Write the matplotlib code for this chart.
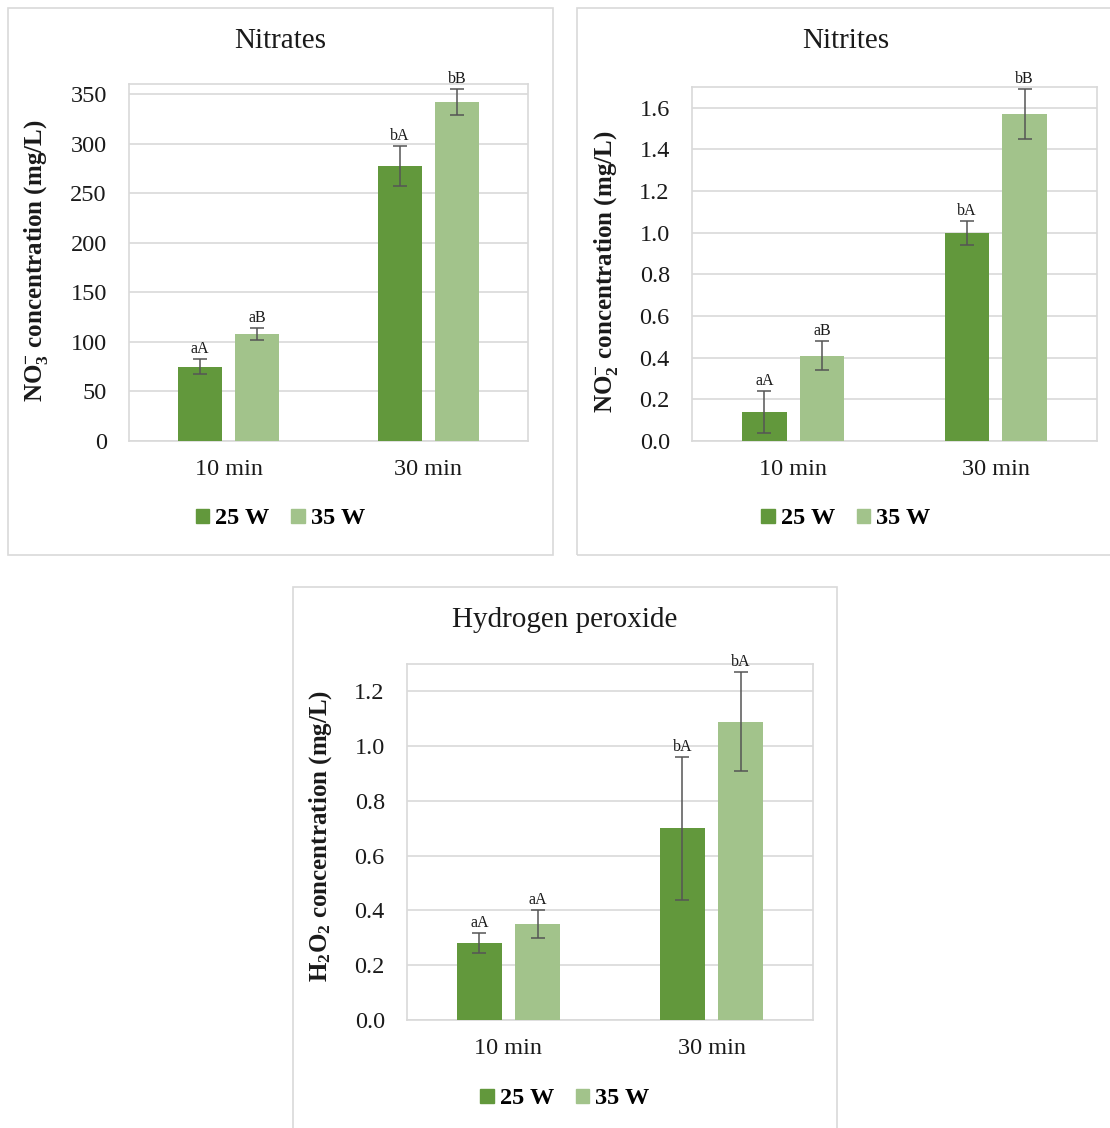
import matplotlib
matplotlib.use("Agg")
import matplotlib.pyplot as plt
from matplotlib.patches import Rectangle, Patch
import numpy as np

plt.rcParams['font.family'] = ['Liberation Serif', 'DejaVu Serif']
plt.rcParams['mathtext.fontset'] = 'custom'
plt.rcParams['mathtext.rm'] = 'Liberation Serif:bold'
plt.rcParams['mathtext.it'] = 'Liberation Serif:bold'
plt.rcParams['mathtext.bf'] = 'Liberation Serif:bold'

# ---- data ----
categories = ["10 min", "30 min"]
series = ["25 W", "35 W"]

nitrate_25 = [75, 277]
nitrate_35 = [108, 342]
nitrate_err_25 = [7.5, 20]
nitrate_err_35 = [6, 13]
nitrate_lbl_25 = ["aA", "bA"]
nitrate_lbl_35 = ["aB", "bB"]

nitrite_25 = [0.14, 1.00]
nitrite_35 = [0.41, 1.57]
nitrite_err_25 = [0.10, 0.058]
nitrite_err_35 = [0.07, 0.12]
nitrite_lbl_25 = ["aA", "bA"]
nitrite_lbl_35 = ["aB", "bB"]

h2o2_25 = [0.28, 0.70]
h2o2_35 = [0.35, 1.09]
h2o2_err_25 = [0.037, 0.26]
h2o2_err_35 = [0.05, 0.18]
h2o2_lbl_25 = ["aA", "bA"]
h2o2_lbl_35 = ["aA", "bA"]

nitrate_ticks = [0, 50, 100, 150, 200, 250, 300, 350]
nitrite_ticks = [0.0, 0.2, 0.4, 0.6, 0.8, 1.0, 1.2, 1.4, 1.6]
h2o2_ticks = [0.0, 0.2, 0.4, 0.6, 0.8, 1.0, 1.2]

DARK = "#62983C"
LIGHT = "#A2C38B"
GRID = "#D9D9D9"
ERR = "#555555"

W, H = 1110, 1128
fig = plt.figure(figsize=(W / 100, H / 100), dpi=100)


def px_axes(left, top, right, bottom):
    return fig.add_axes([left / W, 1 - bottom / H, (right - left) / W, (bottom - top) / H])


def panel_box(left, top, right, bottom):
    fig.patches.append(Rectangle((left / W, 1 - bottom / H), (right - left) / W, (bottom - top) / H,
                                 transform=fig.transFigure, fill=False, edgecolor=GRID, lw=1.2,
                                 zorder=0))


def draw_panel(box, ax_px, title, ylabel, ylabel_xy, v25, v35, e25, e35, l25, l35,
               ticks, ymax, fmt):
    panel_box(*box)
    ax = px_axes(*ax_px)
    x = np.arange(len(categories))
    off, bw = 0.143, 0.22
    ax.bar(x - off, v25, bw, color=DARK, zorder=3)
    ax.bar(x + off, v35, bw, color=LIGHT, zorder=3)
    ax.errorbar(x - off, v25, yerr=e25, fmt='none', ecolor=ERR, elinewidth=1.1,
                capsize=5, capthick=1.1, zorder=4)
    ax.errorbar(x + off, v35, yerr=e35, fmt='none', ecolor=ERR, elinewidth=1.1,
                capsize=5, capthick=1.1, zorder=4)
    for xi, v, e, s in zip(x - off, v25, e25, l25):
        ax.annotate(s, (xi, v + e), xytext=(0, 1.5), textcoords='offset points',
                    ha='center', va='bottom', fontsize=11.5, color='#1a1a1a')
    for xi, v, e, s in zip(x + off, v35, e35, l35):
        ax.annotate(s, (xi, v + e), xytext=(0, 1.5), textcoords='offset points',
                    ha='center', va='bottom', fontsize=11.5, color='#1a1a1a')
    ax.set_xlim(-0.5, 1.5)
    ax.set_ylim(0, ymax)
    ax.set_yticks(ticks)
    ax.set_yticklabels([fmt.format(t) for t in ticks])
    ax.set_xticks(x)
    ax.set_xticklabels(categories)
    ax.tick_params(axis='y', length=0, pad=16, labelsize=17.5, labelcolor='#1a1a1a')
    ax.tick_params(axis='x', length=0, pad=13, labelsize=17.5, labelcolor='#1a1a1a')
    ax.grid(axis='y', color=GRID, lw=1.2, zorder=0)
    ax.set_axisbelow(True)
    for sp in ax.spines.values():
        sp.set_color(GRID)
        sp.set_linewidth(1.2)
    bl, bt, br, bb = box
    cx = (bl + br) / 2
    fig.text(cx / W, 1 - (bt + 33) / H, title, ha='center', va='center', fontsize=21,
             color='#1a1a1a')
    fig.text(ylabel_xy[0] / W, 1 - ylabel_xy[1] / H, ylabel, rotation=90,
             ha='center', va='center', fontsize=18, fontweight='bold', color='#1a1a1a')
    handles = [Patch(color=DARK, label=series[0]), Patch(color=LIGHT, label=series[1])]
    fig.legend(handles=handles, loc='center', bbox_to_anchor=(cx / W, 1 - (bb - 36) / H),
               ncol=2, frameon=False, prop={'weight': 'bold', 'size': 17.5},
               handlelength=0.55, handleheight=0.55, handletextpad=0.25, columnspacing=0.9,
               borderaxespad=0)
    return ax


draw_panel((8, 8, 553, 555), (129, 84, 528, 441), "Nitrates",
           r"$\mathregular{NO_3^{-}}$ concentration (mg/L)", (36, 261),
           nitrate_25, nitrate_35, nitrate_err_25, nitrate_err_35,
           nitrate_lbl_25, nitrate_lbl_35, nitrate_ticks, 360, "{:.0f}")

draw_panel((577, 8, 1115, 555), (692, 87, 1097, 441), "Nitrites",
           r"$\mathregular{NO_2^{-}}$ concentration (mg/L)", (606, 272),
           nitrite_25, nitrite_35, nitrite_err_25, nitrite_err_35,
           nitrite_lbl_25, nitrite_lbl_35, nitrite_ticks, 1.70, "{:.1f}")

draw_panel((293, 587, 837, 1135), (407, 664, 813, 1020), "Hydrogen peroxide",
           r"$\mathregular{H_2O_2}$ concentration (mg/L)", (321, 836),
           h2o2_25, h2o2_35, h2o2_err_25, h2o2_err_35,
           h2o2_lbl_25, h2o2_lbl_35, h2o2_ticks, 1.30, "{:.1f}")

fig.savefig("out.png", dpi=100, facecolor='white')
